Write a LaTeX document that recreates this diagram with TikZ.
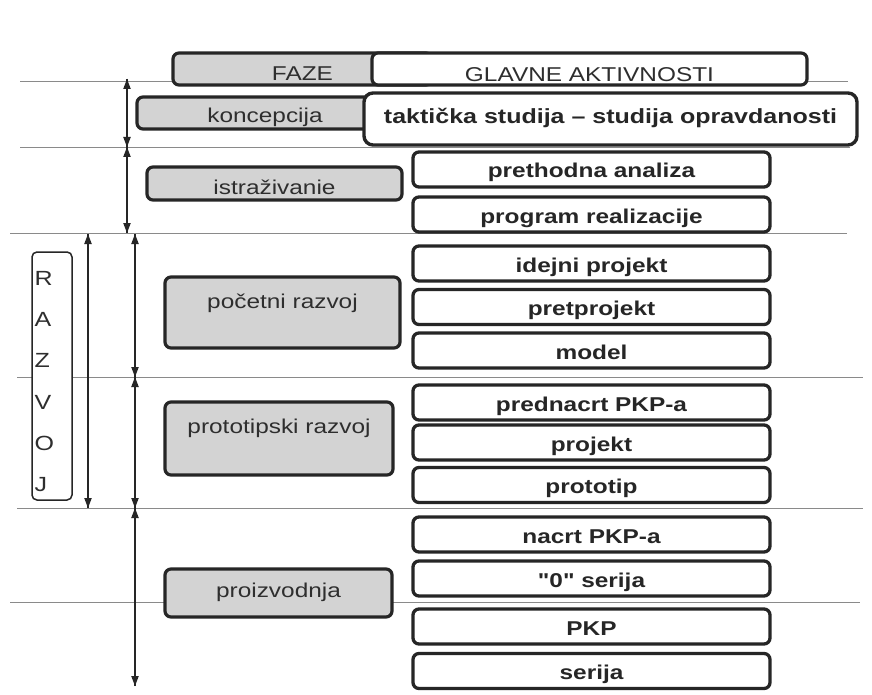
\documentclass[tikz,border=0pt]{standalone}
\usepackage{fontspec}
\newfontfamily\labfont[FakeStretch=1.22]{Liberation Sans}
\definecolor{ink}{HTML}{262626}
\definecolor{txt}{HTML}{2E2E2E}
\definecolor{boxgray}{HTML}{D3D3D3}
\definecolor{linegray}{HTML}{8A8A8A}
\tikzset{
  hline/.style={draw=linegray, line width=0.9pt},
  graybox/.style={draw=ink, line width=3.2pt, rounded corners=6pt, fill=boxgray,
    inner sep=0pt, font=\labfont\fontsize{20}{22}\selectfont, text=txt},
  actbox/.style={draw=ink, line width=3.3pt, rounded corners=6pt, fill=white,
    inner sep=0pt, minimum width=357pt, minimum height=35pt,
    text height=17pt, text depth=0pt,
    font=\labfont\bfseries\fontsize{20}{22}\selectfont, text=ink},
  dimline/.style={draw=ink, line width=1.3pt},
  dimhead/.style={fill=ink},
}
% vertical double-headed dimension arrow between two named coordinates (#1 above #2)
\newcommand\vdimarrow[2]{%
  \draw[dimline] (#1) -- (#2);
  \fill[dimhead] (#1) -- ++(-3.8,10) -- ++(7.6,0) -- cycle;
  \fill[dimhead] (#2) -- ++(-3.8,-10) -- ++(7.6,0) -- cycle;
}
\begin{document}
\begin{tikzpicture}[x=1pt,y=-1pt]
\useasboundingbox (0,0) rectangle (872,695);
\fill[white] (0,0) rectangle (872,695);
% separator lines
\draw[hline] (20,81) -- (848,81);
\draw[hline] (20,147) -- (850,147);
\draw[hline] (10,233) -- (847,233);
\draw[hline] (17,377) -- (863,377);
\draw[hline] (17,508) -- (863,508);
\draw[hline] (10,602) -- (860,602);
% header
\node[graybox, minimum width=259pt, minimum height=32pt, text height=24pt, text depth=0pt] (faze) at (302.5,69) {FAZE};
\node[graybox, fill=white, minimum width=435pt, minimum height=32pt, text height=26pt, text depth=0pt] (glavne) at (589.5,69) {GLAVNE AKTIVNOSTI};
% koncepcija
\node[graybox, minimum width=256pt, minimum height=32pt, text height=20pt, text depth=0pt] (konc) at (265,113) {koncepcija};
\node[draw=ink, line width=3.4pt, rounded corners=9pt, fill=white, inner sep=0pt,
  minimum width=493pt, minimum height=52pt, text height=9pt, text depth=0pt,
  font=\labfont\bfseries\fontsize{20.5}{22}\selectfont, text=ink] (takt) at (610.5,119) {taktička studija – studija opravdanosti};
% istrazivanje
\node[graybox, minimum width=255pt, minimum height=33pt, text height=21pt, text depth=0pt] (istr) at (274.5,183.5) {istraživanie};
\node[actbox] (preth) at (591.5,169.5) {prethodna analiza};
\node[actbox] (progr) at (591.5,214.5) {program realizacije};
% pocetni razvoj
\node[graybox, minimum width=235pt, minimum height=71pt, text height=0pt, text depth=9pt] (poc) at (282.5,312.5) {početni razvoj};
\node[actbox] (idej) at (591.5,263.5) {idejni projekt};
\node[actbox] (pretp) at (591.5,307) {pretprojekt};
\node[actbox] (model) at (591.5,350.5) {model};
% prototipski razvoj
\node[graybox, minimum width=228pt, minimum height=73pt, text height=0pt, text depth=11pt] (proto) at (279,438.5) {prototipski razvoj};
\node[actbox] (prednacrt) at (591.5,402.5) {prednacrt PKP-a};
\node[actbox] (projekt) at (591.5,442.5) {projekt};
\node[actbox] (prototip) at (591.5,485) {prototip};
% proizvodnja
\node[graybox, minimum width=227pt, minimum height=48pt, text height=8pt, text depth=0pt] (proiz) at (278.5,593) {proizvodnja};
\node[actbox] (nacrt) at (591.5,534.5) {nacrt PKP-a};
\node[actbox] (nulta) at (591.5,578.5) {"0" serija};
\node[actbox] (pkp) at (591.5,626.5) {PKP};
\node[actbox] (serija) at (591.5,671) {serija};
% RAZVOJ
\node[draw=ink, line width=1.5pt, rounded corners=5pt, fill=white, inner xsep=2.5pt, inner ysep=0pt,
  minimum width=40pt, minimum height=248pt, text width=35pt, align=left,
  font=\labfont\fontsize{20.5}{41.2}\selectfont, text=txt] (razvoj) at (52,376)
  {\rule{0pt}{25pt}R\\A\\Z\\V\\O\\J};
% dimension arrow end points
\coordinate (k1) at (127,79);
\coordinate (k2) at (127,147);
\coordinate (k3) at (127,233);
\coordinate (p1) at (135,234);
\coordinate (p2) at (135,377);
\coordinate (p3) at (135,508);
\coordinate (p4) at (135,686);
\coordinate (r1) at (88,234);
\coordinate (r2) at (88,508);
% dimension arrows
\vdimarrow{k1}{k2}
\vdimarrow{k2}{k3}
\vdimarrow{p1}{p2}
\vdimarrow{p2}{p3}
\vdimarrow{p3}{p4}
\vdimarrow{r1}{r2}
\end{tikzpicture}
\end{document}
